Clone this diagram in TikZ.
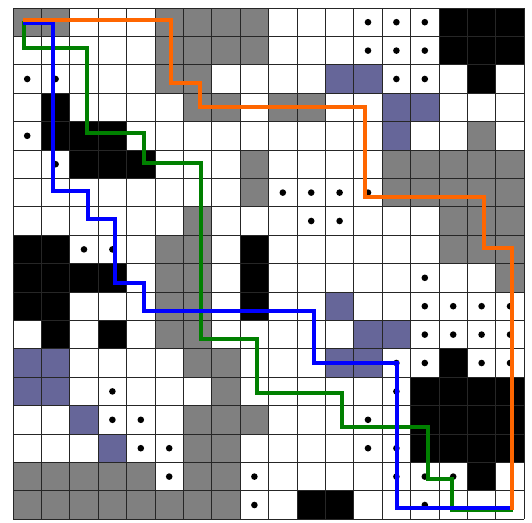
\documentclass[tikz,border=0pt]{standalone}
\definecolor{cgray}{RGB}{128,128,128}
\definecolor{cpurple}{RGB}{102,102,153}
\definecolor{corange}{RGB}{255,102,0}
\definecolor{cgreen}{RGB}{0,128,0}
\definecolor{cblue}{RGB}{0,0,255}
\tikzset{
  gridline/.style={draw=black!85, line width=0.9pt},
  route/.style={line width=4pt, line join=miter, line cap=butt},
  dotmark/.style={fill=black},
}
\begin{document}
\begin{tikzpicture}
\useasboundingbox (0pt,0pt) rectangle (532pt,-522pt);
\fill[white] (0pt,0pt) rectangle (532pt,-522pt);
\begin{scope}[shift={(13pt,-8pt)}, x=28.4pt, y=-28.4pt]
  % gray cells
  \foreach \r/\c in {0/0,0/1,0/5,0/6,0/7,0/8,
    1/5,1/6,1/7,1/8,
    2/5,2/6,
    3/6,3/7,3/9,3/10,
    4/16,
    5/8,5/13,5/14,5/15,5/16,5/17,
    6/8,6/13,6/14,6/15,6/16,6/17,
    7/6,7/15,7/16,7/17,
    8/5,8/6,8/15,8/16,8/17,
    9/5,9/6,9/17,
    10/5,10/6,
    11/5,11/6,
    12/6,12/7,
    13/7,
    14/6,14/7,14/8,
    15/6,15/7,
    16/0,16/1,16/2,16/3,16/4,16/6,16/7,
    17/0,17/1,17/2,17/3,17/4,17/5,17/6,17/7}
    \fill[cgray] (\c,\r) rectangle ++(1,1);
  % black cells
  \foreach \r/\c in {0/15,0/16,0/17,
    1/15,1/16,1/17,
    2/16,
    3/1,
    4/1,4/2,4/3,
    5/2,5/3,5/4,
    8/0,8/1,8/8,
    9/0,9/1,9/2,9/3,9/8,
    10/0,10/1,10/8,
    11/1,11/3,
    12/15,
    13/14,13/15,13/16,13/17,
    14/14,14/15,14/16,14/17,
    15/14,15/15,15/16,15/17,
    16/16,
    17/10,17/11}
    \fill[black] (\c,\r) rectangle ++(1,1);
  % purple cells
  \foreach \r/\c in {2/11,2/12,3/13,3/14,4/13,
    10/11,11/12,11/13,12/0,12/1,12/11,12/12,
    13/0,13/1,14/2,15/3}
    \fill[cpurple] (\c,\r) rectangle ++(1,1);
  % grid
  \foreach \i in {0,...,18} {
    \draw[gridline] (\i,0) -- (\i,18);
    \draw[gridline] (0,\i) -- (18,\i);
  }
  % dots
  \foreach \r/\c in {0/12,0/13,0/14,
    1/12,1/13,1/14,
    2/0,2/1,2/13,2/14,
    4/0,5/1,
    6/9,6/10,6/11,6/12,
    7/10,7/11,
    8/2,8/3,
    9/14,
    10/14,10/15,10/16,10/17,
    11/14,11/15,11/16,11/17,
    12/13,12/14,12/16,12/17,
    13/3,13/13,
    14/3,14/4,14/12,
    15/4,15/5,15/12,15/13,
    16/5,16/8,16/13,16/14,16/15,
    17/8,17/14}
    \fill[dotmark] (\c+0.5,\r+0.5) circle (3.3pt);
  % routes
  \coordinate (gs) at (0.39,0.45);
  \coordinate (ge) at (17.62,17.66);
  \coordinate (bs) at (0.35,0.53);
  \coordinate (be) at (17.62,17.6);
  \coordinate (os) at (0.35,0.42);
  \coordinate (oe) at (17.58,17.66);
  \draw[route, cgreen] (gs) -- (0.39,1.41) -- (2.62,1.41) -- (2.62,4.41) -- (4.61,4.41)
    -- (4.61,5.47) -- (6.61,5.47) -- (6.61,11.67) -- (8.6,11.67) -- (8.6,13.55)
    -- (11.6,13.55) -- (11.6,14.74) -- (14.62,14.74) -- (14.62,16.6) -- (15.47,16.6)
    -- (15.47,17.66) -- (ge);
  \draw[route, cblue] (bs) -- (1.41,0.53) -- (1.41,6.44) -- (2.64,6.44) -- (2.64,7.42)
    -- (3.58,7.42) -- (3.58,9.67) -- (4.61,9.67) -- (4.61,10.66) -- (10.6,10.66)
    -- (10.6,12.49) -- (13.52,12.49) -- (13.52,17.6) -- (be);
  \draw[route, corange] (os) -- (5.57,0.42) -- (5.57,2.64) -- (6.57,2.64) -- (6.57,3.5)
    -- (12.39,3.5) -- (12.39,6.64) -- (16.58,6.64) -- (16.58,8.44) -- (17.58,8.44)
    -- (oe);
\end{scope}
\end{tikzpicture}
\end{document}
